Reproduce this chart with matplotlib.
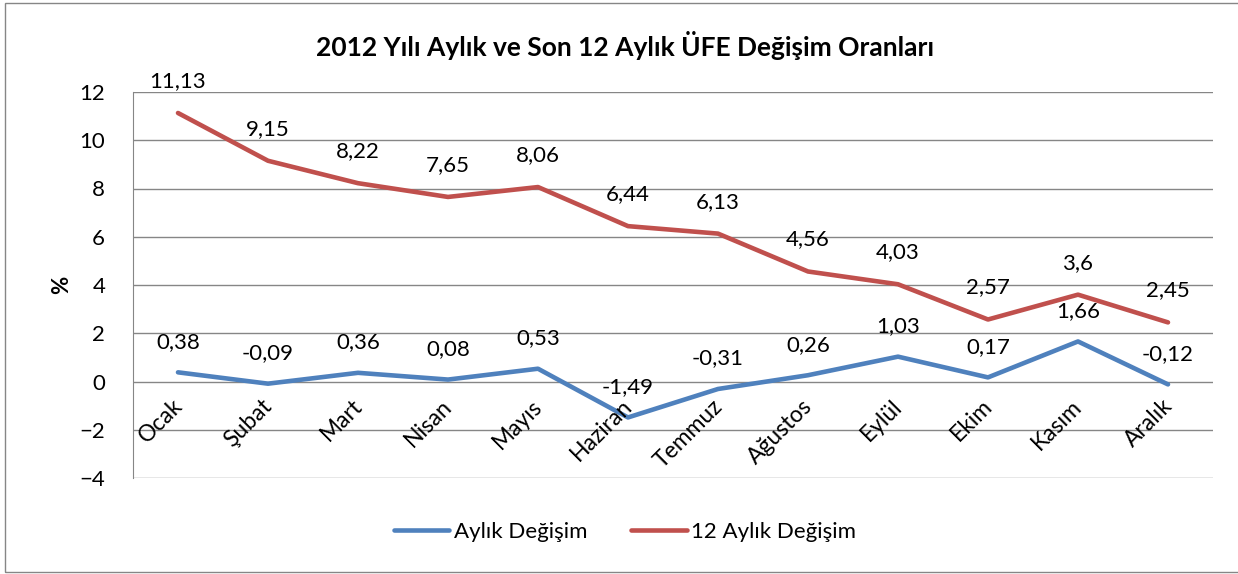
import matplotlib.pyplot as plt
from matplotlib.patches import Rectangle

# data
months = ['Ocak', 'Şubat', 'Mart', 'Nisan', 'Mayıs', 'Haziran', 'Temmuz',
          'Ağustos', 'Eylül', 'Ekim', 'Kasım', 'Aralık']
aylik = [0.38, -0.09, 0.36, 0.08, 0.53, -1.49, -0.31, 0.26, 1.03, 0.17, 1.66, -0.12]
yillik = [11.13, 9.15, 8.22, 7.65, 8.06, 6.44, 6.13, 4.56, 4.03, 2.57, 3.6, 2.45]
yticks = [-4, -2, 0, 2, 4, 6, 8, 10, 12]

plt.rcParams['font.family'] = ['Lato', 'DejaVu Sans']

fig = plt.figure(figsize=(12.38, 5.74), dpi=100)
ax = fig.add_axes([133 / 1238, 1 - 478 / 574, (1213 - 133) / 1238, (478 - 92) / 574])

# outer chart border
fig.patches.append(Rectangle((5 / 1238, 2 / 574), 1.2, 1 - 5 / 574, transform=fig.transFigure,
                             fill=False, edgecolor='#868686', linewidth=1))

x = list(range(len(months)))
ax.plot(x, aylik, color='#4F81BD', linewidth=3.3, label='Aylık Değişim', solid_capstyle='round')
ax.plot(x, yillik, color='#C0504D', linewidth=3.3, label='12 Aylık Değişim', solid_capstyle='round')

def fmt(v):
    return ('%g' % v).replace('.', ',')

for xi, v in zip(x, aylik):
    ax.annotate(fmt(v), (xi, v), xytext=(0, 22), textcoords='offset points',
                ha='center', va='center', fontsize=16)
for xi, v in zip(x, yillik):
    ax.annotate(fmt(v), (xi, v), xytext=(0, 23), textcoords='offset points',
                ha='center', va='center', fontsize=16)

# category labels next to the zero line
for xi, m in zip(x, months):
    ax.annotate(m, (xi, 0), xytext=(6, -10), textcoords='offset points',
                ha='right', va='top', rotation=45, fontsize=16.5)

ax.set_xlim(-0.5, 11.5)
ax.set_ylim(-4, 12)
ax.set_yticks(yticks)
ax.set_xticks([])
ax.tick_params(axis='y', length=0, labelsize=16, pad=20)
ax.grid(axis='y', color='#868686', linewidth=1)
ax.set_axisbelow(True)
for s in ['top', 'right', 'bottom']:
    ax.spines[s].set_visible(False)
ax.spines['left'].set_color('#868686')

ax.set_ylabel('%', fontsize=16, fontweight='bold', labelpad=5)
fig.text(625 / 1238, 1 - 45 / 574, '2012 Yılı Aylık ve Son 12 Aylık ÜFE Değişim Oranları',
         ha='center', va='center', fontsize=19, fontweight='bold')

fig.legend(loc='center', bbox_to_anchor=(625 / 1238, 1 - 532 / 574), ncol=2, frameon=False,
           fontsize=16, handlelength=2.5, handletextpad=0.2, columnspacing=2.0)

fig.savefig('out.png', dpi=100)
